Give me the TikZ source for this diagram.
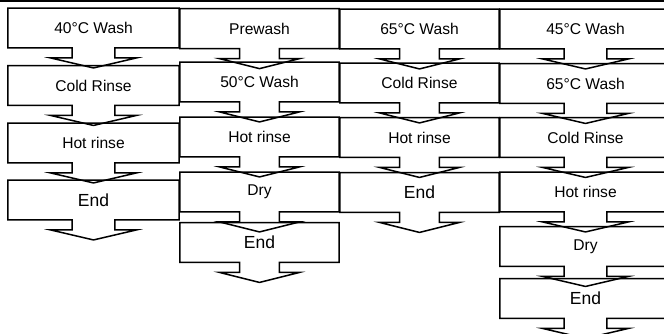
\documentclass[tikz,border=0pt]{standalone}
\usepackage{fontspec}
\setmainfont{Liberation Sans}
\usetikzlibrary{calc}
\tikzset{
  stepbox/.style={minimum width=#1, minimum height=39.5pt, inner sep=0pt, font=\fontsize{15.6}{18}\selectfont},
  stepbox/.default=159pt,
  endbox/.style={stepbox=#1, font=\fontsize{17.5}{20}\selectfont},
  endbox/.default=159pt,
  outline/.style={draw=black, line width=1.5pt, line join=miter}
}
\begin{document}
\begin{tikzpicture}[x=1pt, y=-1pt]
\useasboundingbox (0,0) rectangle (664,334);
\draw[outline] (0,1) -- (664,1);
% first column
\node[stepbox=171pt] (a1) at (93.5,28) {40°C Wash};
\node[stepbox=171pt] (a2) at (93.5,85.5) {Cold Rinse};
\node[stepbox=171pt] (a3) at (93.5,143) {Hot rinse};
\node[endbox=171pt] (a4) at (93.5,200) {End};
% second column
\node[stepbox] (b1) at (259.5,28.7) {Prewash};
\node[stepbox] (b2) at (259.5,82) {50°C Wash};
\node[stepbox] (b3) at (259.5,137) {Hot rinse};
\node[stepbox] (b4) at (259.5,192) {Dry};
\node[endbox] (b5) at (259.5,242.5) {End};
% third column
\node[stepbox] (c1) at (419.5,29) {65°C Wash};
\node[stepbox] (c2) at (419.5,83) {Cold Rinse};
\node[stepbox] (c3) at (419.5,137.5) {Hot rinse};
\node[endbox] (c4) at (419.5,192.5) {End};
% fourth column
\node[stepbox=171pt] (d1) at (585.5,29) {45°C Wash};
\node[stepbox=171pt] (d2) at (585.5,83.5) {65°C Wash};
\node[stepbox=171pt] (d3) at (585.5,137.5) {Cold Rinse};
\node[stepbox=171pt] (d4) at (585.5,192) {Hot rinse};
\node[stepbox=171pt] (d5) at (585.5,246.5) {Dry};
\node[endbox=171pt] (d6) at (585.5,298.5) {End};
% box outlines with the arrow below
\foreach \n in {a1,a2,a3,a4,b1,b2,b3,b4,b5,c1,c2,c3,c4,d1,d2,d3,d4,d5,d6}
  \draw[outline] ($(\n.south)!0.25!(\n.south west)$) -- (\n.south west) -- (\n.north west)
    -- (\n.north east) -- (\n.south east) -- ($(\n.south)!0.25!(\n.south east)$) -- ++(0,10)
    -- ($(\n.south)!0.5!(\n.south east)+(0,10)$) -- ($(\n.south)+(0,20)$)
    -- ($(\n.south)!0.5!(\n.south west)+(0,10)$) -- ($(\n.south)!0.25!(\n.south west)+(0,10)$) -- cycle;
\end{tikzpicture}
\end{document}
